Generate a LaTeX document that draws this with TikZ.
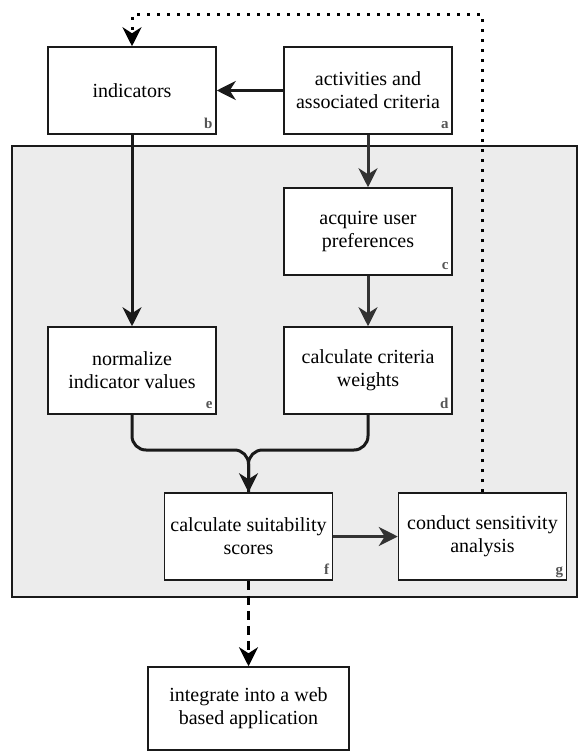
\documentclass[tikz,border=0pt]{standalone}
\usepackage{fontspec}
\setmainfont{Liberation Serif}
\usepackage{tikz}
\usetikzlibrary{arrows.meta,positioning}
\usepackage{xcolor}
\definecolor{panelgray}{RGB}{236,236,236}
\definecolor{linedark}{RGB}{26,26,26}
\definecolor{linegray}{RGB}{51,51,51}
\definecolor{taggray}{RGB}{85,85,85}

\tikzset{
  stepbox/.style={draw=linedark,line width=1.5pt,fill=white,minimum width=168pt,
    minimum height=87pt,align=center,inner sep=0pt,font=\fontsize{20}{23}\selectfont},
  tag/.style={anchor=base east,xshift=-4pt,yshift=6pt,inner sep=0pt,text=taggray,
    font=\fontsize{15}{15}\bfseries\selectfont},
  flow/.style={->,line width=3pt},
}

\begin{document}
\begin{tikzpicture}[x=1pt,y=-1pt,>={Stealth[length=19pt,width=19pt,inset=6pt]}]
    \useasboundingbox (0,0) rectangle (578,751);

    % Shaded panel
    \draw[fill=panelgray,draw=linedark,line width=1.5pt] (12,146) rectangle (577,597);

    % Steps
    \node[stepbox] (b) at (132,90.5) {indicators};
    \node[stepbox] (a) at (368,90.5) {activities and\\associated criteria};
    \node[stepbox] (c) at (368,231.5) {acquire user\\preferences};
    \node[stepbox] (e) at (132,370.5) {normalize\\indicator values};
    \node[stepbox] (d) at (368,370.5) {calculate criteria\\weights};
    \node[stepbox] (f) at (248.5,536.5) {calculate suitability\\scores};
    \node[stepbox] (g) at (482.5,536.5) {conduct sensitivity\\analysis};
    \node[stepbox,minimum width=201pt,minimum height=83pt] (h) at (248.5,708.5) {integrate into a web\\based application};

    % Corner letters
    \foreach \n in {a,b,c,d,e,f,g}
        \node[tag] at (\n.south east) {\n};

    % Main flow
    \draw[flow,linedark] (a) -- (b);
    \draw[flow,linedark] (b) -- (e);
    \draw[flow,linegray] (a) -- (c);
    \draw[flow,linegray] (c) -- (d);
    \coordinate (merge) at (248.5,450);
    \draw[line width=3pt,linedark,rounded corners=14pt] (d.south) |- (merge) -- (f.north);
    \draw[flow,linedark,rounded corners=14pt] (e.south) |- (merge) -- (f.north);
    \draw[flow,linegray] (f) -- (g);

    % Feedback loop
    \coordinate (loop) at (482.5,15);
    \draw[flow,dash pattern=on 3pt off 7pt] (g.north) -- (loop) -| (b.north);

    % Web application
    \draw[flow,dash pattern=on 9pt off 6pt] (f) -- (h);
\end{tikzpicture}
\end{document}
